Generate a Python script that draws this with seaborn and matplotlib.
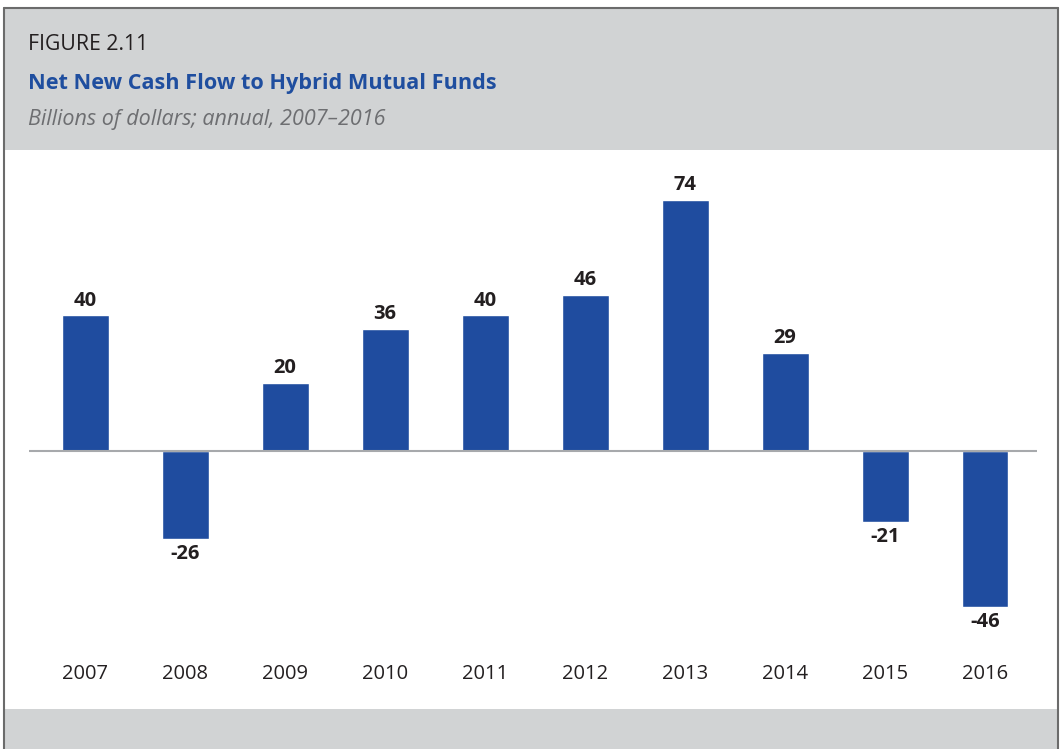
import matplotlib
matplotlib.use("Agg")
import matplotlib.pyplot as plt
from matplotlib.patches import Rectangle
from matplotlib.lines import Line2D
import pandas as pd
import seaborn as sns

# Annual net new cash flow, billions of dollars
years = ["2007", "2008", "2009", "2010", "2011", "2012", "2013", "2014", "2015", "2016"]
flows = [40, -26, 20, 36, 40, 46, 74, 29, -21, -46]

fig_label = "FIGURE 2.11"
title = "Net New Cash Flow to Hybrid Mutual Funds"
subtitle = "Billions of dollars; annual, 2007\u20132016"

BAR = "#1f4c9f"
BLUE_TXT = "#1f4e9f"
PANEL = "#d1d3d4"
DARK = "#231f20"
SUB = "#6d6e71"
FONT = "Open Sans"

sns.set_theme(style="white")
plt.rcParams["font.family"] = [FONT, "DejaVu Sans"]

W, H = 1060, 749
fig = plt.figure(figsize=(W / 100, H / 100), dpi=100)
fig.patch.set_facecolor("white")


def fx(px):
    return px / W


def fy(py):
    return 1 - py / H


# header and footer bands
fig.add_artist(Rectangle((fx(4), fy(150)), fx(1053), 142 / H, transform=fig.transFigure,
                         facecolor=PANEL, edgecolor="none", zorder=0))
fig.add_artist(Rectangle((fx(4), 0), fx(1053), 40 / H, transform=fig.transFigure,
                         facecolor=PANEL, edgecolor="none", zorder=0))
# frame lines
for xs, ys in [((3.5, 3.5), (7.5, 749)), ((1057.5, 1057.5), (7.5, 749)), ((3.5, 1057.5), (7.5, 7.5))]:
    fig.add_artist(Line2D([fx(x) for x in xs], [fy(y) for y in ys], transform=fig.transFigure,
                          color="#6b6b6b", lw=1.5, zorder=1))

fig.text(fx(28), fy(44), fig_label, fontsize=15.3, color=DARK, va="center", ha="left")
fig.text(fx(28), fy(83), title, fontsize=15.6, fontweight="bold", color=BLUE_TXT, va="center", ha="left")
fig.text(fx(28), fy(119), subtitle, fontsize=15.5, style="italic", color=SUB, va="center", ha="left")

# plotting area
ax_l, ax_r, ax_t, ax_b = 29, 1037, 165, 640
ax = fig.add_axes([fx(ax_l), fy(ax_b), fx(ax_r - ax_l), (ax_b - ax_t) / H])
ax.set_facecolor("none")

df = pd.DataFrame({"year": years, "flow": flows})
sns.barplot(data=df, x="year", y="flow", order=years, color=BAR, saturation=1,
            width=0.47, ax=ax, zorder=2)

scale = 3.39  # pixels per billion
zero_px = 451
ax.set_ylim(-(ax_b - zero_px) / scale, (zero_px - ax_t) / scale)
ax.set_xlim(-0.56, 9.52)
ax.axhline(0, color="#a7a9ac", lw=1.5, zorder=3)

for c in ax.containers:
    ax.bar_label(c, fmt="%d", padding=3.5, fontsize=14.5, fontweight="bold", color=DARK)

ax.set_xlabel("")
ax.set_ylabel("")
ax.set_yticks([])
ax.tick_params(axis="x", length=0, pad=17, labelsize=14.5, labelcolor=DARK)
for s in ax.spines.values():
    s.set_visible(False)

fig.savefig("out.png", dpi=100)
